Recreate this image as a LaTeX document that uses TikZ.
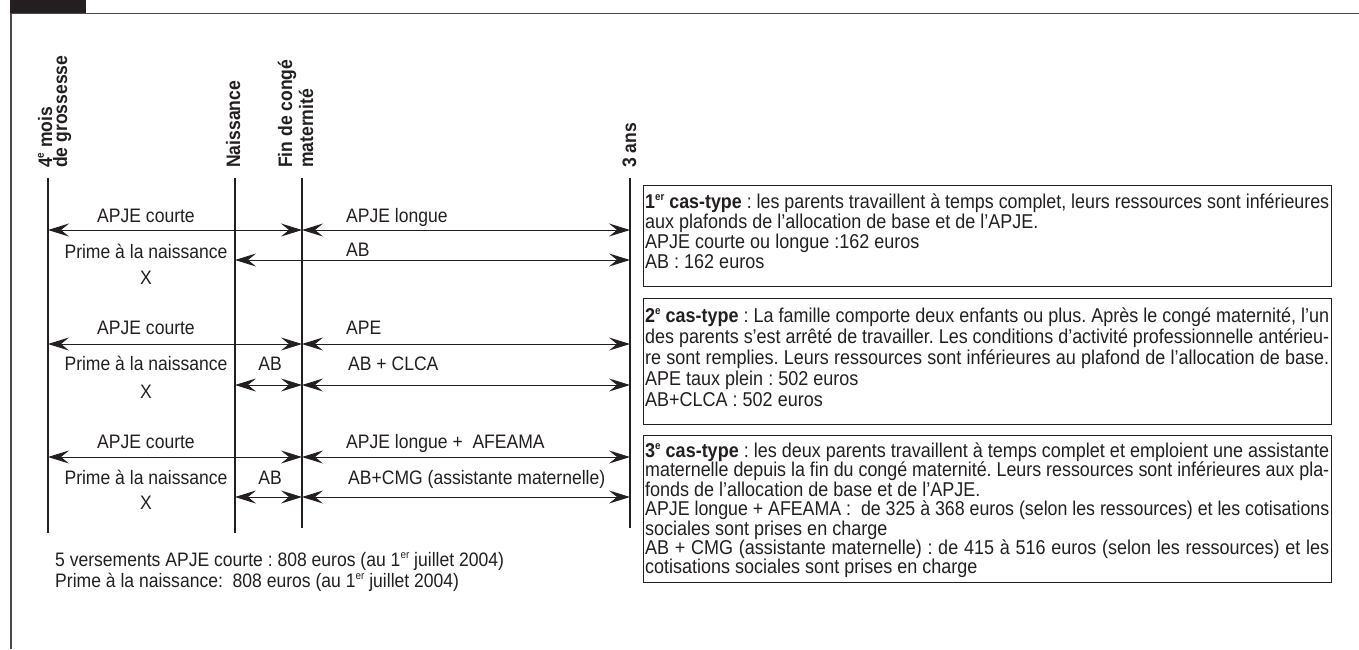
\documentclass[tikz,border=0pt]{standalone}
\usepackage{fontspec}
\usepackage{graphicx}
\setmainfont[FakeStretch=0.9]{Liberation Sans}
\usetikzlibrary{arrows.meta}
\definecolor{ink}{HTML}{231F20}
\definecolor{frame}{HTML}{4A4A4A}
\newsavebox{\jlinebox}
\newcommand{\jline}[1]{\sbox{\jlinebox}{#1}%
  \ifdim\wd\jlinebox>\linewidth\resizebox{\linewidth}{\height}{\usebox{\jlinebox}}%
  \else\makebox[\linewidth][s]{#1}\fi}
\newcommand{\sups}[1]{\raisebox{0.42em}{\fontsize{11}{11}\selectfont #1}}
\frenchspacing
\begin{document}
\begin{tikzpicture}[x=1pt,y=-1pt,
  tl/.style={line width=2.6pt, draw=ink},
  dbl/.style={line width=0.9pt, draw=ink,
    {Stealth[length=21pt,width=13pt,inset=8pt]}-{Stealth[length=21pt,width=13pt,inset=8pt]}},
  lbl/.style={font=\fontsize{19.5}{20}\selectfont, inner sep=0pt, text=ink},
  vlbl/.style={font=\fontsize{19.5}{20}\selectfont\bfseries, inner sep=0pt, rotate=90, anchor=base west, text=ink},
  casebox/.style={draw=ink, line width=1.1pt, inner sep=0pt, anchor=north west, minimum width=688pt},
  casetext/.style={inner sep=0pt, anchor=base west, text=ink},
]
\useasboundingbox (0,0) rectangle (1359,649);
% frame
\fill[ink] (10,0) rectangle (86,13);
\draw[frame, line width=1.6pt] (10,13.3) -- (1359,13.3);
\draw[frame, line width=1.6pt] (11,13) -- (11,649);

% vertical labels
\node[vlbl] (v1a) at (52,168) {4\sups{e} mois};
\node[vlbl] (v1b) at (67,168) {de grossesse};
\node[vlbl] (v2) at (240,168) {Naissance};
\node[vlbl] (v3a) at (292,168) {Fin de congé};
\node[vlbl] (v3b) at (313,168) {maternité};
\node[vlbl] (v4) at (636,168) {3 ans};

% timeline lines
\coordinate (t1top) at (48,178);  \coordinate (t1bot) at (48,533);
\coordinate (t2top) at (235,178); \coordinate (t2bot) at (235,533);
\coordinate (t3top) at (302,178); \coordinate (t3bot) at (302,528);
\coordinate (t4top) at (630,178); \coordinate (t4bot) at (630,528);
\draw[tl] (t1top) -- (t1bot);
\draw[tl] (t2top) -- (t2bot);
\draw[tl] (t3top) -- (t3bot);
\draw[tl] (t4top) -- (t4bot);

% rows
\coordinate (r1) at (0,230); \coordinate (r2) at (0,260);
\coordinate (r3) at (0,344); \coordinate (r4) at (0,385);
\coordinate (r5) at (0,457); \coordinate (r6) at (0,497);

% case 1
\draw[dbl] (t1top |- r1) -- (t3top |- r1);
\draw[dbl] (t3top |- r1) -- (t4top |- r1);
\draw[dbl] (t2top |- r2) -- (t4top |- r2);
\node[lbl, anchor=base] (c1a) at (146,222.5) {APJE courte};
\node[lbl, anchor=base west] (c1b) at (346,222.5) {APJE longue};
\node[lbl, anchor=base] (c1c) at (146,258.5) {Prime à la naissance};
\node[lbl, anchor=base west] (c1d) at (346,256.5) {AB};
\node[lbl, anchor=base] (c1e) at (146,284.5) {X};

% case 2
\draw[dbl] (t1top |- r3) -- (t3top |- r3);
\draw[dbl] (t3top |- r3) -- (t4top |- r3);
\draw[dbl] (t2top |- r4) -- (t3top |- r4);
\draw[dbl] (t3top |- r4) -- (t4top |- r4);
\node[lbl, anchor=base] (c2a) at (146,334.5) {APJE courte};
\node[lbl, anchor=base west] (c2b) at (346,334.5) {APE};
\node[lbl, anchor=base] (c2c) at (146,370.5) {Prime à la naissance};
\node[lbl, anchor=base] (c2d) at (270,370.5) {AB};
\node[lbl, anchor=base west] (c2e) at (348,370.5) {AB + CLCA};
\node[lbl, anchor=base] (c2f) at (146,398.5) {X};

% case 3
\draw[dbl] (t1top |- r5) -- (t3top |- r5);
\draw[dbl] (t3top |- r5) -- (t4top |- r5);
\draw[dbl] (t2top |- r6) -- (t3top |- r6);
\draw[dbl] (t3top |- r6) -- (t4top |- r6);
\node[lbl, anchor=base] (c3a) at (146,448.5) {APJE courte};
\node[lbl, anchor=base west] (c3b) at (346,448.5) {APJE longue +~ AFEAMA};
\node[lbl, anchor=base] (c3c) at (146,484.5) {Prime à la naissance};
\node[lbl, anchor=base] (c3d) at (270,484.5) {AB};
\node[lbl, anchor=base west] (c3e) at (348,484.5) {AB+CMG (assistante maternelle)};
\node[lbl, anchor=base] (c3f) at (146,509.5) {X};

% notes
\node[lbl, anchor=base west] (n1) at (55,566.5) {5 versements APJE courte : 808 euros (au 1\sups{er} juillet 2004)};
\node[lbl, anchor=base west] (n2) at (55,587.5) {Prime à la naissance:~ 808 euros (au 1\sups{er} juillet 2004)};

% case boxes
\node[casebox, minimum height=101pt] (box1) at (643,185) {};
\node[casetext] (txt1) at (645,208.5) {\parbox[t]{684pt}{\fontsize{20}{20}\selectfont
\jline{\textbf{1\sups{er} cas-type} : les parents travaillent à temps complet, leurs ressources sont inférieures}\\
aux plafonds de l’allocation de base et de l’APJE.\\
APJE courte ou longue :162 euros\\
AB : 162 euros}};

\node[casebox, minimum height=126pt] (box2) at (643,298) {};
\node[casetext] (txt2) at (645,322.5) {\parbox[t]{684pt}{\fontsize{20}{21}\selectfont
\jline{\textbf{2\sups{e} cas-type} : La famille comporte deux enfants ou plus. Après le congé maternité, l’un}\\
\jline{des parents s’est arrêté de travailler. Les conditions d’activité professionnelle antérieu-}\\
\jline{re sont remplies. Leurs ressources sont inférieures au plafond de l’allocation de base.}\\
APE taux plein : 502 euros\\
AB+CLCA : 502 euros}};

\node[casebox, minimum height=147pt] (box3) at (643,435) {};
\node[casetext] (txt3) at (645,457.5) {\parbox[t]{684pt}{\fontsize{20}{19.4}\selectfont
\jline{\textbf{3\sups{e} cas-type} : les deux parents travaillent à temps complet et emploient une assistante}\\
\jline{maternelle depuis la fin du congé maternité. Leurs ressources sont inférieures aux pla-}\\
fonds de l’allocation de base et de l’APJE.\\
\jline{APJE longue + AFEAMA :~ de 325 à 368 euros (selon les ressources) et les cotisations}\\
sociales sont prises en charge\\
\jline{AB + CMG (assistante maternelle) : de 415 à 516 euros (selon les ressources) et les}\\
cotisations sociales sont prises en charge}};
\end{tikzpicture}
\end{document}
